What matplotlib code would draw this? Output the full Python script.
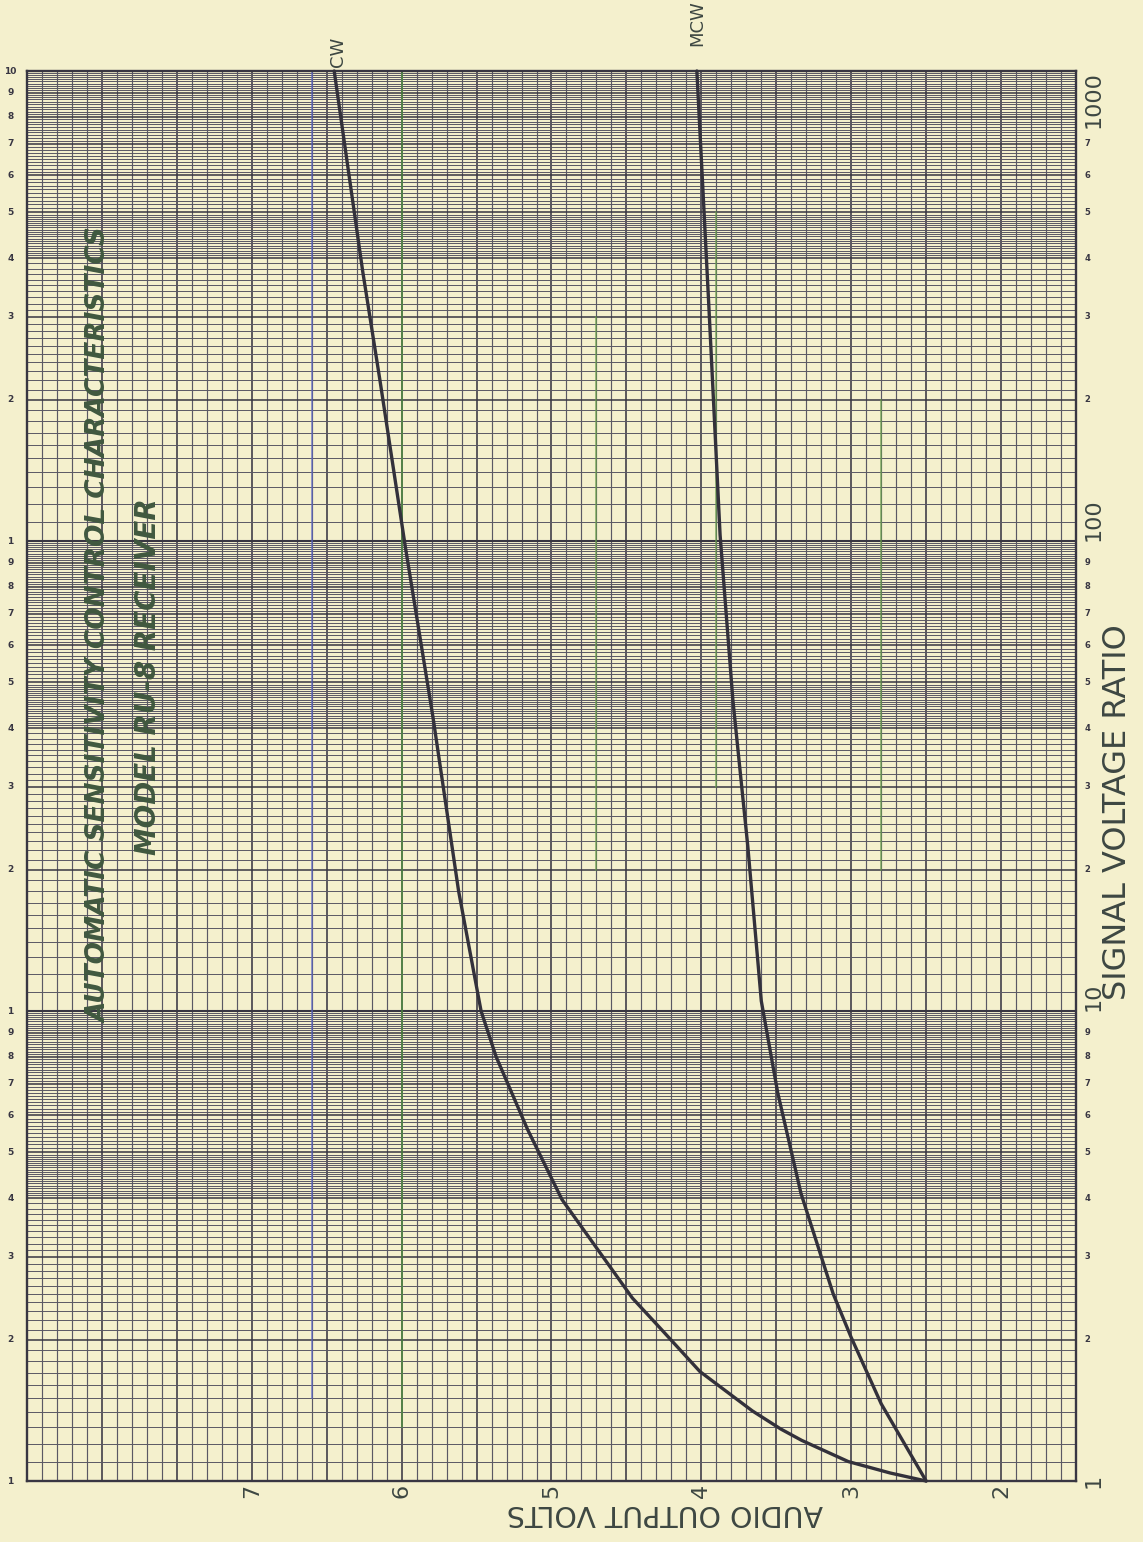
import matplotlib
matplotlib.use('Agg')
import matplotlib.pyplot as plt
from matplotlib.ticker import NullLocator
import numpy as np

# values: signal voltage ratio (log) vs audio output volts
cw_ratio = [1.0, 1.04, 1.10, 1.22, 1.29, 1.41, 1.71, 2.09, 2.45, 3.97, 5.6, 8.0,
            10.0, 18.0, 42.0, 97.0, 220.0, 375.0, 1000.0]
cw_volts = [2.50, 2.74, 3.02, 3.33, 3.47, 3.66, 4.01, 4.26, 4.46, 4.93, 5.16, 5.37,
            5.47, 5.62, 5.79, 5.975, 6.145, 6.26, 6.45]

mcw_ratio = [1.0, 1.46, 2.02, 2.5, 4.09, 6.69, 10.5, 22.4, 46.0, 103.0, 316.0, 1000.0]
mcw_volts = [2.50, 2.80, 3.00, 3.12, 3.335, 3.49, 3.60, 3.69, 3.79, 3.875, 3.95, 4.03]

volt_ticks = [7, 6, 5, 4, 3, 2]
decades = [1, 10, 100]
cycle_digits = [1, 2, 3, 4, 5, 6, 7, 8, 9]
big_ratio_labels = ['1', '10', '100', '1000']

# pencilled colour lines on the sheet: (volts, from ratio, to ratio, colour)
pencil_lines = [(6.6, 1.5, 1000, '#5a66c8'), (6.0, 1.3, 1000, '#4f9a3c'),
                (4.7, 20, 300, '#6aa04c'), (3.9, 30, 500, '#6aa04c'),
                (2.8, 20, 200, '#6aa04c')]

paper = '#f4f0cd'
ink = '#383642'
ink_light = '#5a5864'
letter_ink = '#3d4742'
title_ink = '#40583f'

W, H = 1143, 1542
L, R, T, B = 27, 1076, 71, 1481

fig = plt.figure(figsize=(W / 100, H / 100), dpi=100)
fig.patch.set_facecolor(paper)
ax = fig.add_axes([L / W, 1 - B / H, (R - L) / W, (B - T) / H])
ax.set_facecolor(paper)
ax.set_yscale('log')
ax.set_xlim(8.5, 1.5)
ax.set_ylim(1, 1000)
ax.set_xticks([])
ax.set_yticks([])
ax.yaxis.set_minor_locator(NullLocator())
for s in ax.spines.values():
    s.set_color(ink)
    s.set_linewidth(1.7)

# linear volts rulings, 0.1 V apart, heavier every 0.5 V
for v in np.arange(1.6, 8.45, 0.1):
    v = round(v, 1)
    heavy = abs(v * 2 - round(v * 2)) < 1e-6
    ax.axvline(v, color=ink if heavy else ink_light,
               lw=1.15 if heavy else 0.85, zorder=1)

# log rulings, three cycles
steps = [(1, 2, 0.1), (2, 4, 0.1), (4, 5, 0.05), (5, 10, 0.1)]
for d in decades:
    for lo, hi, st in steps:
        for m in np.arange(lo, hi - 1e-9, st):
            m = round(m, 2)
            if m == 1 and d == 1:
                continue
            if m == 1:
                c, w = ink, 1.5
            elif m == int(m):
                c, w = ink, 1.1
            else:
                c, w = ink_light, 0.7
            ax.axhline(m * d, color=c, lw=w, zorder=1)

for v, r0, r1, col in pencil_lines:
    ax.plot([v, v], [r0, r1], color=col, lw=1.1, alpha=0.8, zorder=2)

ax.plot(cw_volts, cw_ratio, color='#33313b', lw=2.4, zorder=3,
        solid_capstyle='round', solid_joinstyle='round', clip_on=False)
ax.plot(mcw_volts, mcw_ratio, color='#33313b', lw=2.4, zorder=3,
        solid_capstyle='round', solid_joinstyle='round', clip_on=False)

ax.annotate('CW', xy=(cw_volts[-1], 1000), xytext=(3, 3), textcoords='offset points',
            rotation=90, ha='center', va='bottom', fontsize=13, color=letter_ink)
ax.annotate('MCW', xy=(mcw_volts[-1], 1000), xytext=(0, 18), textcoords='offset points',
            rotation=90, ha='center', va='bottom', fontsize=13, color=letter_ink)

# volts scale under the sheet
for v in volt_ticks:
    ax.annotate(str(v), xy=(v, 0), xycoords=('data', 'axes fraction'),
                xytext=(0, -2), textcoords='offset points', rotation=90,
                ha='center', va='top', fontsize=16, color=letter_ink)

# printed cycle numbers, left and right margins
for d in decades:
    for k in cycle_digits:
        ax.annotate(str(k), xy=(0, k * d), xycoords=('axes fraction', 'data'),
                    xytext=(-12, 0), textcoords='offset points',
                    ha='center', va='center', fontsize=6.5, fontweight='bold', color=ink)
        # the top cycle's 8 and 9 are lettered over by the big 1000
        if k > 1 and not (d == 100 and k >= 8):
            ax.annotate(str(k), xy=(1, k * d), xycoords=('axes fraction', 'data'),
                        xytext=(8, 0), textcoords='offset points',
                        ha='center', va='center', fontsize=6, fontweight='bold', color=ink)
ax.annotate('10', xy=(0, 1000), xycoords=('axes fraction', 'data'),
            xytext=(-12, 0), textcoords='offset points',
            ha='center', va='center', fontsize=6.5, fontweight='bold', color=ink)

# hand lettered ratio marks on the right
for lab in big_ratio_labels:
    r = float(lab)
    ha = {'1': 'center', '1000': 'right'}.get(lab, 'left')
    ax.annotate(lab, xy=(1, r), xycoords=('axes fraction', 'data'),
                xytext=(13, 0), textcoords='offset points', rotation=90,
                rotation_mode='anchor', ha=ha, va='center',
                fontsize=16, color=letter_ink)

fig.text(1118 / W, 1 - 812 / H, 'SIGNAL VOLTAGE RATIO', rotation=90,
         ha='center', va='center', fontsize=23, color=letter_ink)
fig.text(665 / W, 1 - 1513 / H, 'AUDIO OUTPUT VOLTS', rotation=180,
         ha='center', va='center', fontsize=20.5, color=letter_ink)

fig.text(100 / W, 1 - 625 / H, 'AUTOMATIC SENSITIVITY CONTROL CHARACTERISTICS',
         rotation=90, ha='center', va='center', fontsize=19, fontweight='bold',
         fontstyle='italic', color=title_ink)
fig.text(148 / W, 1 - 677 / H, 'MODEL RU-8 RECEIVER', rotation=90,
         ha='center', va='center', fontsize=20, fontweight='bold',
         fontstyle='italic', color=title_ink)

fig.savefig('out.png', dpi=100, facecolor=paper)
